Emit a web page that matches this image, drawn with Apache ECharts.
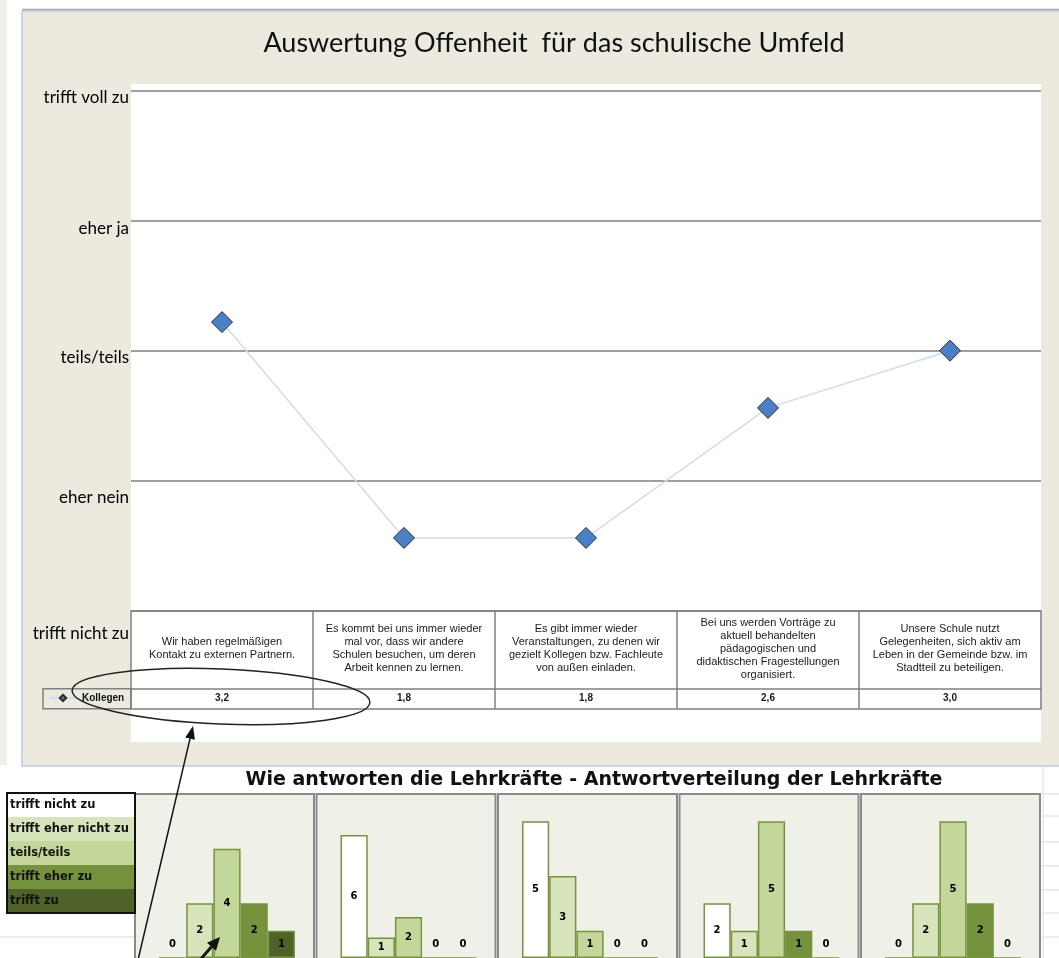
<!DOCTYPE html>
<html><head><meta charset="utf-8">
<script src="https://cdn.jsdelivr.net/npm/echarts@6/dist/echarts.min.js"></script>
<style>html,body{margin:0;padding:0;background:#fff}#c{width:1059px;height:958px}</style>
</head><body><div id="c"></div>
<script>
// ---------------- data ----------------
const chartTitle = 'Auswertung Offenheit  für das schulische Umfeld';
const scaleLabels = ['trifft nicht zu', 'eher nein', 'teils/teils', 'eher ja', 'trifft voll zu']; // values 1..5
const statements = [
  'Wir haben regelmäßigen\nKontakt zu externen Partnern.',
  'Es kommt bei uns immer wieder\nmal vor, dass wir andere\nSchulen besuchen, um deren\nArbeit kennen zu lernen.',
  'Es gibt immer wieder\nVeranstaltungen, zu denen wir\ngezielt Kollegen bzw. Fachleute\nvon außen einladen.',
  'Bei uns werden Vorträge zu\naktuell behandelten\npädagogischen und\ndidaktischen Fragestellungen\norganisiert.',
  'Unsere Schule nutzt\nGelegenheiten, sich aktiv am\nLeben in der Gemeinde bzw. im\nStadtteil zu beteiligen.'
];
const seriesName = 'Kollegen';
const plottedValues = [3.22, 1.56, 1.56, 2.56, 3.0];      // marker positions
const tableValues = ['3,2', '1,8', '1,8', '2,6', '3,0'];  // values printed in the data table

const distTitle = 'Wie antworten die Lehrkräfte - Antwortverteilung der Lehrkräfte';
const answerCategories = ['trifft nicht zu', 'trifft eher nicht zu', 'teils/teils', 'trifft eher zu', 'trifft zu'];
const dist1 = [0, 2, 4, 2, 1];
const dist2 = [6, 1, 2, 0, 0];
const dist3 = [5, 3, 1, 0, 0];
const dist4 = [2, 1, 5, 1, 0];
const dist5 = [0, 2, 5, 2, 0];
const distAxisMax = [6, 8, 6, 6, 6];

// ---------------- styles ----------------
const GREY = '#808080';
const answerColors = ['#FFFFFF', '#D8E4BC', '#C4D79B', '#76923C', '#4F6228'];
const labelShift = {1: 46, 2: 34, 3: 14, 4: 16, 5: 14};
const dists = [dist1, dist2, dist3, dist4, dist5];

const chart = echarts.init(document.getElementById('c'));

const rich = {};
Object.keys(labelShift).forEach(k => {
  rich['l' + k] = {padding: [labelShift[k], 0, 0, 0], fontSize: 17, fontFamily: 'Lato', color: '#000'};
});

const grids = [{left: 131, right: 18, top: 90.7, height: 520}];
const xAxes = [
  {gridIndex: 0, type: 'category', data: statements, position: 'bottom',
   axisLine: {show: true, lineStyle: {color: GREY, width: 1.5}},
   axisTick: {show: true, interval: 0, length: 98, lineStyle: {color: GREY, width: 1.5}},
   axisLabel: {interval: 0, margin: 38, verticalAlign: 'middle', lineHeight: 13, fontSize: 11,
               fontFamily: 'Liberation Sans', color: '#1a1a1a'}},
  {gridIndex: 0, type: 'category', data: statements, position: 'bottom', offset: 78,
   axisLine: {show: true, lineStyle: {color: GREY, width: 1.5}},
   axisTick: {show: true, interval: 0, length: 20, lineStyle: {color: GREY, width: 1.5}},
   axisLabel: {interval: 0, margin: 10, verticalAlign: 'middle', fontSize: 10, fontWeight: 'bold',
               fontFamily: 'Liberation Sans', color: '#1a1a1a', formatter: (v, i) => tableValues[i]}},
  {gridIndex: 0, type: 'category', data: statements, position: 'bottom', offset: 98,
   axisLine: {show: true, lineStyle: {color: GREY, width: 1.5}},
   axisTick: {show: false}, axisLabel: {show: false}}
];
const yAxes = [
  {gridIndex: 0, type: 'value', min: 1, max: 5, interval: 1,
   axisLine: {show: false}, axisTick: {show: false},
   splitLine: {show: true, lineStyle: {color: GREY, width: 1.5}},
   axisLabel: {margin: 2, verticalAlign: 'middle', formatter: v => '{l' + v + '|' + scaleLabels[v - 1] + '}', rich: rich}}
];
const series = [
  {name: seriesName, type: 'line', xAxisIndex: 0, yAxisIndex: 0, data: plottedValues,
   symbol: 'diamond', symbolSize: 21, z: 5,
   lineStyle: {color: '#CFDCEE', width: 1.5},
   itemStyle: {color: '#4A80C8', borderColor: '#2a2a2a', borderWidth: 1}}
];

const panelRects = [];
dists.forEach((d, i) => {
  const pl = 135 + i * 181.5;
  panelRects.push({type: 'rect', z: -5, shape: {x: pl, y: 794, width: 179, height: 170},
    style: {fill: '#EFF1E8', stroke: '#8A8A8A', lineWidth: 2}});
  grids.push({left: pl + 24, width: 136, top: 794, height: 164});
  xAxes.push({gridIndex: i + 1, type: 'category', data: answerCategories, show: false});
  yAxes.push({gridIndex: i + 1, type: 'value', min: 0, max: distAxisMax[i], show: false});
  series.push({
    type: 'bar', xAxisIndex: i + 3, yAxisIndex: i + 1, barCategoryGap: '0%', silent: true,
    data: d.map((v, k) => {
      const item = {value: v, itemStyle: {color: answerColors[k]}};
      if (v === 0) item.label = {position: 'insideBottom', distance: 9};
      return item;
    }),
    itemStyle: {borderColor: '#77933C', borderWidth: 1.5},
    label: {show: true, position: 'inside', color: '#000', fontSize: 10, fontWeight: 'bold', fontFamily: 'DejaVu Sans'}
  });
});

// legend box for the answer categories
const legendBox = [];
answerCategories.forEach((name, k) => {
  legendBox.push({type: 'rect', z: -4, shape: {x: 7, y: 793 + k * 24, width: 128, height: 24},
    style: {fill: answerColors[k], stroke: null}});
  legendBox.push({type: 'text', z: 10, x: 10, y: 805 + k * 24,
    style: {text: name, fill: '#111', font: 'bold 11.5px "DejaVu Sans"', verticalAlign: 'middle'}});
});
legendBox.push({type: 'rect', z: 9, shape: {x: 7, y: 793, width: 128, height: 120},
  style: {fill: 'none', stroke: '#111', lineWidth: 2}});

function arrow(x1, y1, x2, y2, w, hl, hw) {
  const dx = x2 - x1, dy = y2 - y1, L = Math.hypot(dx, dy), ux = dx / L, uy = dy / L;
  const bx = x2 - ux * hl, by = y2 - uy * hl, px = -uy, py = ux;
  return [
    {type: 'line', z: 60, shape: {x1: x1, y1: y1, x2: bx, y2: by}, style: {stroke: '#111', lineWidth: w}},
    {type: 'polygon', z: 60, shape: {points: [[x2, y2], [bx + px * hw, by + py * hw], [bx - px * hw, by - py * hw]]},
     style: {fill: '#111'}}
  ];
}

const faint = [];
[794, 816, 842, 866, 890, 913, 937].forEach(y => faint.push({type: 'line', z: -6,
  shape: {x1: 1042, y1: y, x2: 1059, y2: y}, style: {stroke: '#DADADA', lineWidth: 1}}));
faint.push({type: 'line', z: -6, shape: {x1: 1043, y1: 767, x2: 1043, y2: 958}, style: {stroke: '#DADADA', lineWidth: 1}});
faint.push({type: 'line', z: -6, shape: {x1: 0, y1: 937, x2: 135, y2: 937}, style: {stroke: '#DADADA', lineWidth: 1}});

const graphics = [
  {type: 'rect', z: -20, shape: {x: 0, y: 0, width: 7, height: 765}, style: {fill: '#EFEEE8'}},
  {type: 'rect', z: -19, shape: {x: 22, y: 11, width: 1045, height: 755}, style: {fill: '#ECE9DE', stroke: '#B8CCE4', lineWidth: 1.5}},
  {type: 'line', z: -18, shape: {x1: 22, y1: 9.5, x2: 1059, y2: 9.5}, style: {stroke: '#A6A6A6', lineWidth: 1.5}},
  {type: 'rect', z: -17, shape: {x: 131, y: 84, width: 910, height: 658}, style: {fill: '#FFFFFF'}},
  {type: 'rect', z: -3, shape: {x: 43, y: 688.7, width: 88, height: 20}, style: {fill: 'none', stroke: GREY, lineWidth: 1.5}},
  {type: 'ellipse', z: 60, x: 221, y: 696.5, rotation: -0.04,
   shape: {cx: 0, cy: 0, rx: 149, ry: 27.5}, style: {fill: 'none', stroke: '#222', lineWidth: 1.5}}
].concat(panelRects, legendBox, faint,
  arrow(138, 960, 193, 726, 1.5, 13, 5),
  arrow(200, 960, 220, 937, 3, 13, 6));

chart.setOption({
  animation: false,
  backgroundColor: '#FFFFFF',
  title: [
    {text: chartTitle, left: 549, textAlign: 'center', top: 25,
     textStyle: {fontFamily: 'Lato', fontSize: 27, fontWeight: 'normal', color: '#111'}},
    {text: distTitle, left: 589, textAlign: 'center', top: 766,
     textStyle: {fontFamily: 'DejaVu Sans', fontSize: 19, fontWeight: 'bold', color: '#111'}}
  ],
  legend: {data: [seriesName], left: 48, top: 693, itemWidth: 28, itemHeight: 8, itemGap: 4, padding: 0,
    textStyle: {fontSize: 10, fontWeight: 'bold', fontFamily: 'Liberation Sans', color: '#111'}},
  grid: grids,
  xAxis: xAxes,
  yAxis: yAxes,
  series: series,
  graphic: graphics
});
</script></body></html>
